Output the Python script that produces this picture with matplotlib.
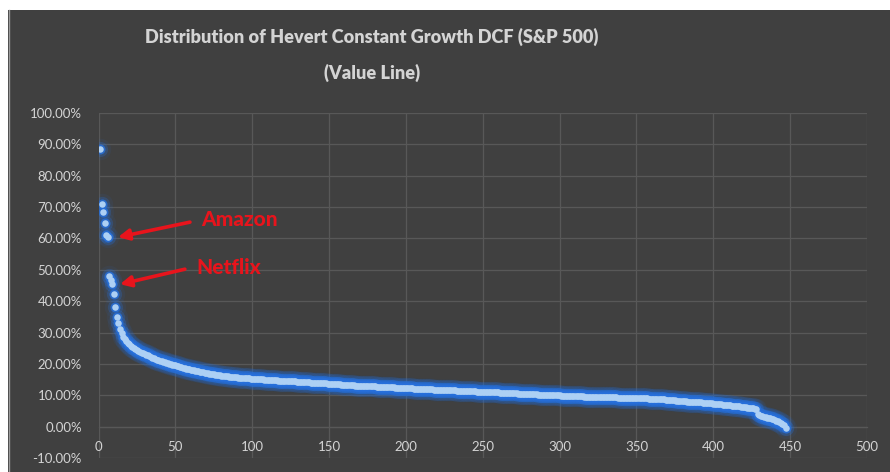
import numpy as np
import matplotlib

matplotlib.use("Agg")
import matplotlib.pyplot as plt  # noqa: E402
from matplotlib.patches import Rectangle  # noqa: E402
from matplotlib.ticker import FuncFormatter, MultipleLocator  # noqa: E402

# Constant-growth DCF cost of equity (%), S&P 500 companies sorted high to low
top_ranks = [88.5, 70.9, 68.3, 65.0, 61.2, 60.4, 47.9, 46.6, 45.4, 42.2,
             38.0, 34.8, 33.2, 31.0, 29.8, 28.6, 27.9, 27.2, 26.6, 26.2]
upper_ranks = [
    25.8, 25.5, 25.1, 24.8, 24.5, 24.2, 23.9, 23.6, 23.4, 23.1,
    22.9, 22.7, 22.4, 22.2, 22.0, 21.8, 21.6, 21.4, 21.2, 21.0,
    20.9, 20.7, 20.5, 20.4, 20.2, 20.1, 19.9, 19.8, 19.6, 19.5,
    19.3, 19.2, 19.0, 18.9, 18.8, 18.6, 18.5, 18.4, 18.3, 18.1,
    18.0, 17.9, 17.8, 17.7, 17.6, 17.5, 17.4, 17.3, 17.2, 17.1,
    17.0, 16.9, 16.8, 16.7, 16.7, 16.6, 16.5, 16.4, 16.4, 16.3,
    16.2, 16.1, 16.1, 16.0, 15.9, 15.9, 15.8, 15.8, 15.7, 15.7,
    15.6, 15.6, 15.5, 15.5, 15.5, 15.4, 15.4, 15.4, 15.3, 15.3,
]
middle_ranks = [
    15.3, 15.2, 15.2, 15.2, 15.1, 15.1, 15.1, 15.0, 15.0, 15.0,
    14.9, 14.9, 14.9, 14.8, 14.8, 14.8, 14.7, 14.7, 14.7, 14.6,
    14.6, 14.6, 14.5, 14.5, 14.5, 14.4, 14.4, 14.4, 14.3, 14.3,
    14.3, 14.2, 14.2, 14.2, 14.1, 14.1, 14.1, 14.0, 14.0, 14.0,
    13.9, 13.9, 13.9, 13.9, 13.8, 13.8, 13.8, 13.8, 13.7, 13.7,
    13.7, 13.6, 13.6, 13.6, 13.5, 13.5, 13.5, 13.4, 13.4, 13.4,
    13.3, 13.3, 13.3, 13.2, 13.2, 13.2, 13.1, 13.1, 13.1, 13.0,
    13.0, 13.0, 12.9, 12.9, 12.9, 12.9, 12.8, 12.8, 12.8, 12.8,
    12.7, 12.7, 12.7, 12.7, 12.6, 12.6, 12.6, 12.6, 12.5, 12.5,
    12.5, 12.5, 12.4, 12.4, 12.4, 12.4, 12.3, 12.3, 12.3, 12.3,
    12.2, 12.2, 12.2, 12.2, 12.1, 12.1, 12.1, 12.1, 12.0, 12.0,
    12.0, 12.0, 11.9, 11.9, 11.9, 11.9, 11.9, 11.8, 11.8, 11.8,
    11.8, 11.8, 11.7, 11.7, 11.7, 11.7, 11.7, 11.6, 11.6, 11.6,
    11.6, 11.6, 11.5, 11.5, 11.5, 11.5, 11.5, 11.4, 11.4, 11.4,
    11.4, 11.3, 11.3, 11.3, 11.3, 11.2, 11.2, 11.2, 11.2, 11.1,
]
lower_ranks = [
    11.1, 11.1, 11.1, 11.0, 11.0, 11.0, 10.9, 10.9, 10.9, 10.9,
    10.8, 10.8, 10.8, 10.8, 10.7, 10.7, 10.7, 10.7, 10.6, 10.6,
    10.6, 10.6, 10.5, 10.5, 10.5, 10.5, 10.4, 10.4, 10.4, 10.4,
    10.3, 10.3, 10.3, 10.3, 10.3, 10.2, 10.2, 10.2, 10.2, 10.2,
    10.1, 10.1, 10.1, 10.1, 10.1, 10.0, 10.0, 10.0, 10.0, 10.0,
    9.9, 9.9, 9.9, 9.9, 9.9, 9.8, 9.8, 9.8, 9.8, 9.8,
    9.7, 9.7, 9.7, 9.7, 9.7, 9.6, 9.6, 9.6, 9.6, 9.6,
    9.5, 9.5, 9.5, 9.5, 9.5, 9.4, 9.4, 9.4, 9.4, 9.4,
    9.4, 9.3, 9.3, 9.3, 9.3, 9.3, 9.3, 9.2, 9.2, 9.2,
    9.2, 9.2, 9.2, 9.1, 9.1, 9.1, 9.1, 9.1, 9.1, 9.1,
    9.0, 9.0, 9.0, 9.0, 9.0, 9.0, 9.0, 8.9, 8.9, 8.9,
    8.9, 8.9, 8.8, 8.8, 8.8, 8.8, 8.7, 8.7, 8.6, 8.6,
    8.5, 8.5, 8.4, 8.4, 8.4, 8.3, 8.3, 8.2, 8.2, 8.2,
    8.1, 8.1, 8.0, 8.0, 8.0, 7.9, 7.9, 7.8, 7.8, 7.8,
    7.7, 7.7, 7.6, 7.6, 7.6, 7.5, 7.5, 7.4, 7.4, 7.3,
]
bottom_ranks = [
    7.3, 7.2, 7.2, 7.1, 7.1, 7.0, 7.0, 6.9, 6.9, 6.8,
    6.8, 6.7, 6.7, 6.6, 6.6, 6.5, 6.5, 6.4, 6.3, 6.3,
    6.2, 6.1, 6.0, 6.0, 5.9, 5.8, 5.7, 5.6,
    3.9, 3.7, 3.5, 3.3, 3.1, 3.0, 2.9, 2.8, 2.6,
    2.5, 2.3, 2.1, 1.9, 1.7, 1.4, 1.2, 0.9, 0.4, -0.4,
]

AMAZON_RANK = 6
NETFLIX_RANK = 9

BG = "#404040"
GRID = "#585858"
TEXT = "#d4d4d4"
GLOW = "#2670dc"
CORE = "#add0f4"
RED = "#e8141c"

values = np.array(top_ranks + upper_ranks + middle_ranks + lower_ranks + bottom_ranks)
ranks = np.arange(1, len(values) + 1)

plt.rcParams["font.family"] = ["Lato", "DejaVu Sans"]

fig = plt.figure(figsize=(8.9, 4.72), dpi=100, facecolor="white")
# dark chart area, leaving a thin white margin on the left and top
fig.patches.append(Rectangle((8 / 890, 0), 1 - 8 / 890, 1 - 10 / 472,
                             transform=fig.transFigure, facecolor=BG,
                             edgecolor="none", zorder=-10))
fig.add_artist(plt.Line2D([8.5 / 890, 8.5 / 890], [0, 1 - 10 / 472],
                          color="#9a9a9a", lw=1.0, zorder=-9))

ax = fig.add_axes([98.5 / 890, 1 - 458 / 472, 768.5 / 890, 345 / 472])
ax.set_facecolor(BG)

# glowing markers: soft halo layers under a light core
ax.scatter(ranks, values, s=240, color=GLOW, alpha=0.07, lw=0, zorder=3)
ax.scatter(ranks, values, s=120, color=GLOW, alpha=0.25, lw=0, zorder=4)
ax.scatter(ranks, values, s=52, color=GLOW, alpha=0.8, lw=0, zorder=5)
ax.scatter(ranks, values, s=22, color=CORE, lw=0, zorder=6)

ax.set_xlim(0, 500)
ax.set_ylim(-10, 100)
ax.xaxis.set_major_locator(MultipleLocator(50))
ax.yaxis.set_major_locator(MultipleLocator(10))
ax.yaxis.set_major_formatter(FuncFormatter(lambda v, _: f"{v:.2f}%"))

ax.grid(True, color=GRID, lw=0.9, zorder=1)
ax.set_axisbelow(True)
for side in ("top", "right", "left"):
    ax.spines[side].set_visible(False)
ax.spines["bottom"].set_position(("data", 0))
ax.spines["bottom"].set_color(GRID)
ax.spines["bottom"].set_linewidth(0.9)
ax.tick_params(axis="x", length=0, pad=10, labelsize=9.5, labelcolor=TEXT)
ax.tick_params(axis="y", length=0, pad=12, labelsize=9.5, labelcolor=TEXT)

# callouts
arrow = dict(arrowstyle="-|>", color=RED, lw=2.6, mutation_scale=16,
             shrinkA=0, shrinkB=0)
ax.annotate("", xy=(AMAZON_RANK + 6.7, values[AMAZON_RANK - 1]),
            xytext=(59.5, 65.2), arrowprops=arrow, zorder=7)
ax.annotate("", xy=(NETFLIX_RANK + 5.0, values[NETFLIX_RANK - 1]),
            xytext=(56.2, 50.2), arrowprops=arrow, zorder=7)
ax.text(92.0, 66.1, "Amazon", color=RED, fontsize=15, fontweight="black",
        ha="center", va="center", zorder=7)
ax.text(84.5, 50.8, "Netflix", color=RED, fontsize=15, fontweight="black",
        ha="center", va="center", zorder=7)

fig.text(372 / 890, 1 - 37 / 472, "Distribution of Hevert Constant Growth DCF (S&P 500)",
         ha="center", va="center", fontsize=13.1, fontweight="heavy", color=TEXT)
fig.text(372 / 890, 1 - 73 / 472, "(Value Line)",
         ha="center", va="center", fontsize=13.1, fontweight="heavy", color=TEXT)

fig.savefig("out.png", dpi=100, facecolor=fig.get_facecolor())
